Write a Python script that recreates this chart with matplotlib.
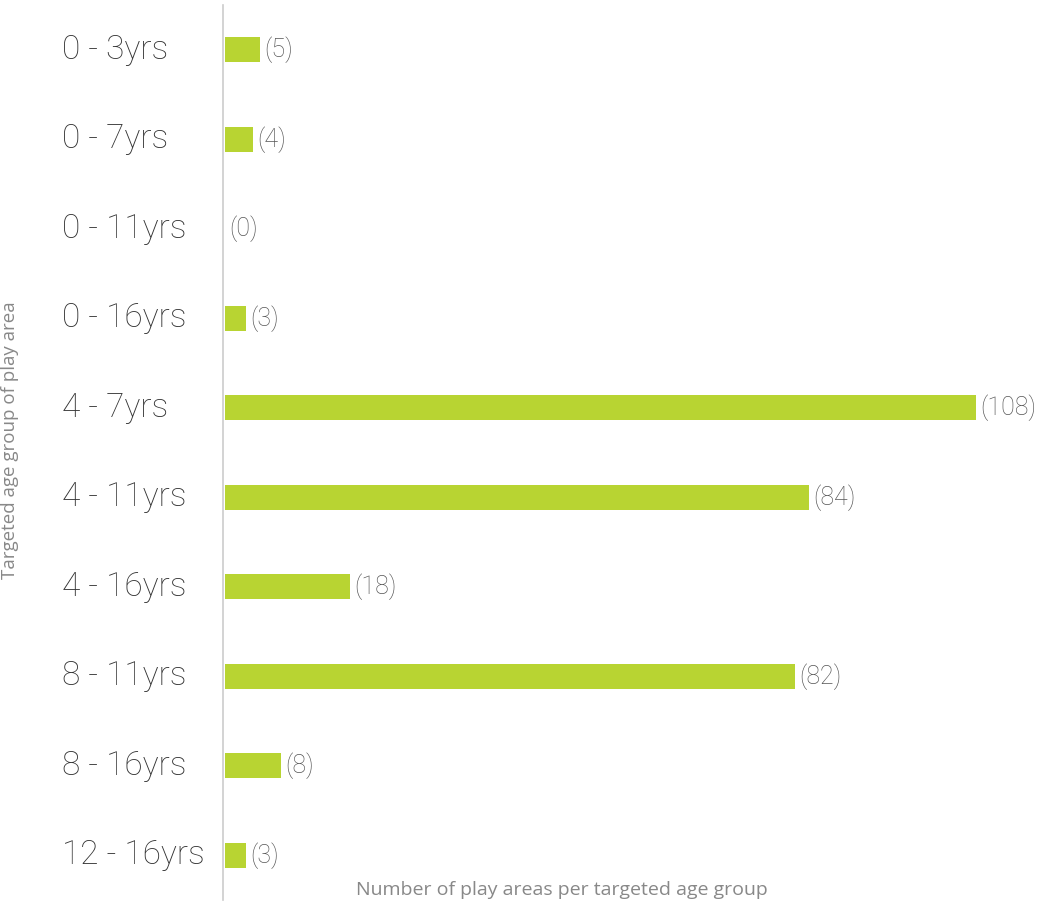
import matplotlib
matplotlib.use("Agg")
import matplotlib.pyplot as plt

categories = ["0 - 3yrs", "0 - 7yrs", "0 - 11yrs", "0 - 16yrs", "4 - 7yrs",
              "4 - 11yrs", "4 - 16yrs", "8 - 11yrs", "8 - 16yrs", "12 - 16yrs"]
counts = [5, 4, 0, 3, 108, 84, 18, 82, 8, 3]

bar_color = "#b8d432"
thin = ["Roboto", "DejaVu Sans"]


def main():
    fig = plt.figure(figsize=(10.43, 9.07), dpi=100)
    ax = fig.add_axes([223 / 1043, 7 / 907, (1043 - 223) / 1043, 895 / 907])

    ypos = list(range(len(categories)))
    ax.barh(ypos, counts, height=0.28, color=bar_color, left=0.3)

    for y, v in zip(ypos, counts):
        ax.text(v + 0.9, y, "(%d)" % v, va="center", ha="left",
                fontsize=18, color="#555555", family=thin, fontweight="light")

    ax.set_ylim(9.5, -0.5)
    ax.set_xlim(0, 118)
    ax.set_yticks([])
    ax.set_xticks([])
    for s in ["top", "right", "bottom"]:
        ax.spines[s].set_visible(False)
    ax.spines["left"].set_color("#cccccc")
    ax.spines["left"].set_linewidth(1.2)

    # category labels, left aligned
    for y, lab in zip(ypos, categories):
        ax.annotate(lab, xy=(62 / 1043, y), xycoords=("figure fraction", "data"),
                    va="center", ha="left", fontsize=24, color="#333333",
                    family=thin, fontweight="light")

    fig.text(562 / 1043, 1 - 890 / 907, "Number of play areas per targeted age group",
             ha="center", va="center", fontsize=14, color="#888888",
             family=["Open Sans", "DejaVu Sans"])
    fig.text(10 / 1043, 1 - 440 / 907, "Targeted age group of play area",
             ha="center", va="center", rotation=90, fontsize=13.5, color="#888888",
             family=["Open Sans", "DejaVu Sans"])

    fig.savefig("out.png", dpi=100)


if __name__ == "__main__":
    main()
